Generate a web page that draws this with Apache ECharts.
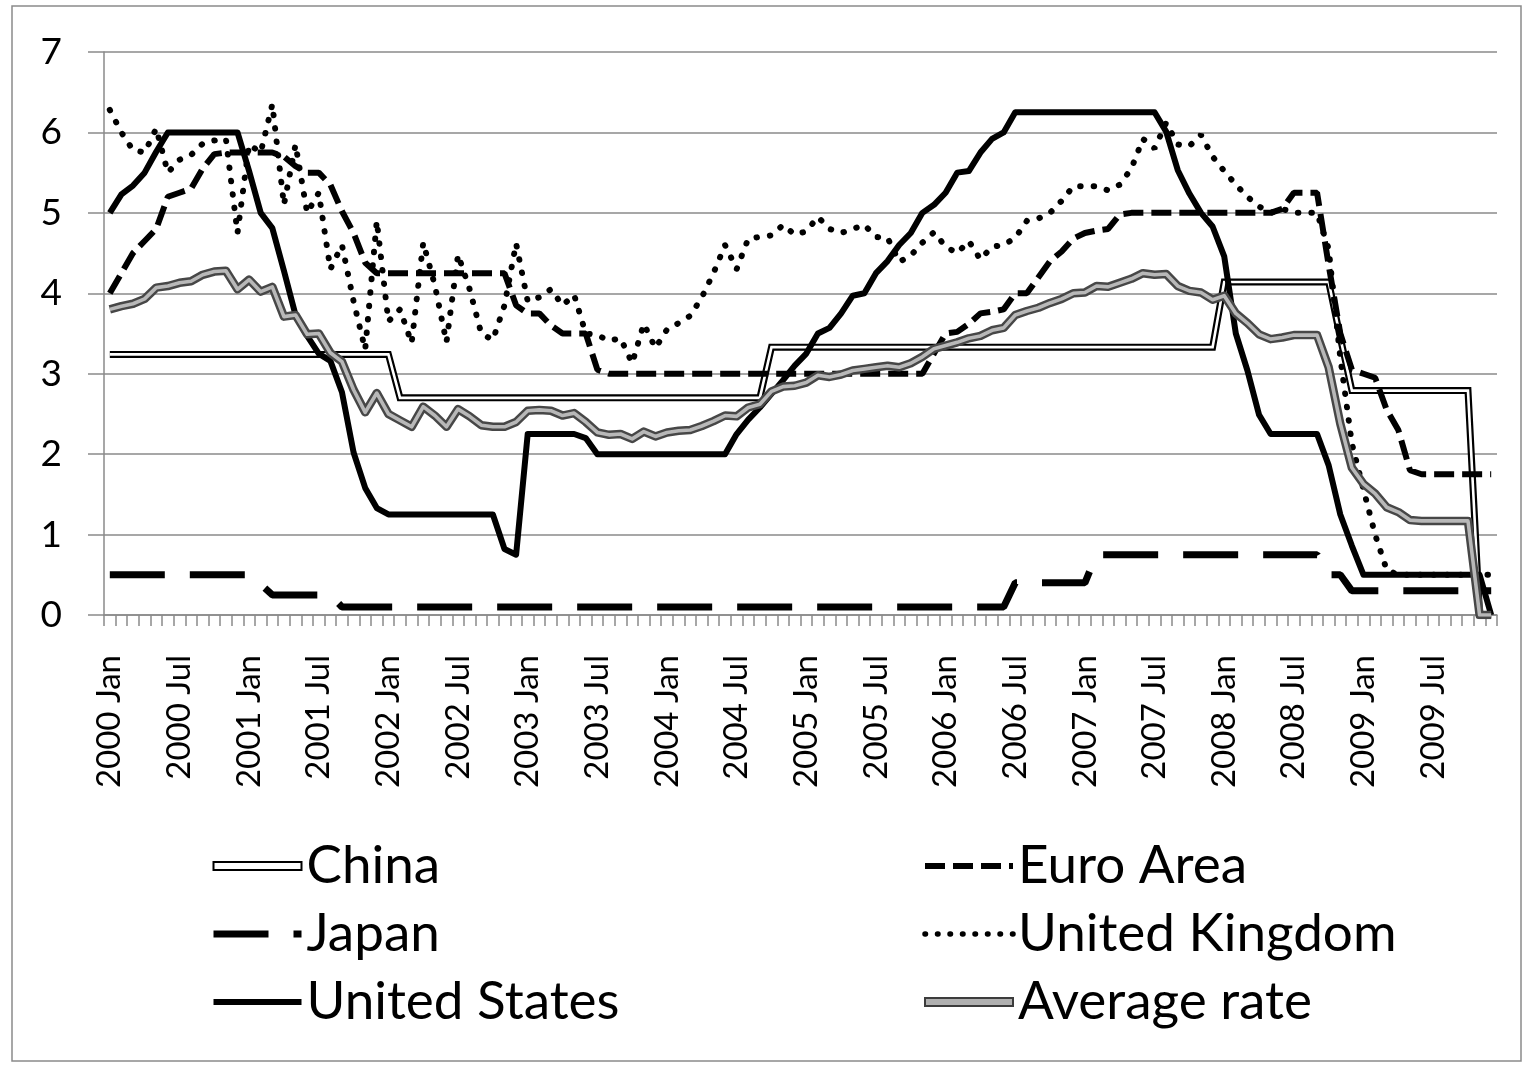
<!DOCTYPE html>
<html>
<head>
<meta charset="UTF-8">
<title>Policy rates 2000-2009</title>
<style>
  html, body { margin: 0; padding: 0; background: #fff; }
  #chart { width: 1528px; height: 1067px; }
</style>
</head>
<body>
<div id="chart"></div>
<script src="https://cdn.jsdelivr.net/npm/echarts@6/dist/echarts.min.js"></script>
<script>
// tick labels
var years = [2000, 2001, 2002, 2003, 2004, 2005, 2006, 2007, 2008, 2009];
var months = ['Jan', 'Feb', 'Mar', 'Apr', 'May', 'Jun', 'Jul', 'Aug', 'Sep', 'Oct', 'Nov', 'Dec'];

// monthly rates, one row per year
var china = [
  3.24, 3.24, 3.24, 3.24, 3.24, 3.24, 3.24, 3.24, 3.24, 3.24, 3.24, 3.24,
  3.24, 3.24, 3.24, 3.24, 3.24, 3.24, 3.24, 3.24, 3.24, 3.24, 3.24, 3.24,
  3.24, 2.7, 2.7, 2.7, 2.7, 2.7, 2.7, 2.7, 2.7, 2.7, 2.7, 2.7,
  2.7, 2.7, 2.7, 2.7, 2.7, 2.7, 2.7, 2.7, 2.7, 2.7, 2.7, 2.7,
  2.7, 2.7, 2.7, 2.7, 2.7, 2.7, 2.7, 2.7, 2.7, 3.33, 3.33, 3.33,
  3.33, 3.33, 3.33, 3.33, 3.33, 3.33, 3.33, 3.33, 3.33, 3.33, 3.33, 3.33,
  3.33, 3.33, 3.33, 3.33, 3.33, 3.33, 3.33, 3.33, 3.33, 3.33, 3.33, 3.33,
  3.33, 3.33, 3.33, 3.33, 3.33, 3.33, 3.33, 3.33, 3.33, 3.33, 3.33, 3.33,
  4.14, 4.14, 4.14, 4.14, 4.14, 4.14, 4.14, 4.14, 4.14, 4.14, 3.45, 2.79,
  2.79, 2.79, 2.79, 2.79, 2.79, 2.79, 2.79, 2.79, 2.79, 2.79, 0, 0
];
var euroArea = [
  4.0, 4.25, 4.5, 4.65, 4.8, 5.2, 5.25, 5.3, 5.55, 5.73, 5.75, 5.75,
  5.75, 5.75, 5.75, 5.7, 5.58, 5.5, 5.5, 5.35, 5.02, 4.75, 4.38, 4.25,
  4.25, 4.25, 4.25, 4.25, 4.25, 4.25, 4.25, 4.25, 4.25, 4.25, 4.25, 3.85,
  3.75, 3.75, 3.6, 3.5, 3.5, 3.5, 3.05, 3.0, 3.0, 3.0, 3.0, 3.0,
  3.0, 3.0, 3.0, 3.0, 3.0, 3.0, 3.0, 3.0, 3.0, 3.0, 3.0, 3.0,
  3.0, 3.0, 3.0, 3.0, 3.0, 3.0, 3.0, 3.0, 3.0, 3.0, 3.0, 3.25,
  3.5, 3.52, 3.62, 3.75, 3.77, 3.8, 4.0, 4.0, 4.2, 4.4, 4.52, 4.68,
  4.75, 4.78, 4.8, 4.98, 5.0, 5.0, 5.0, 5.0, 5.0, 5.0, 5.0, 5.0,
  5.0, 5.0, 5.0, 5.0, 5.0, 5.05, 5.25, 5.25, 5.25, 4.35, 3.5, 3.05,
  3.0, 2.95, 2.55, 2.3, 1.8, 1.75, 1.75, 1.75, 1.75, 1.75, 1.75, 1.75
];
var japan = [
  0.5, 0.5, 0.5, 0.5, 0.5, 0.5, 0.5, 0.5, 0.5, 0.5, 0.5, 0.5,
  0.5, 0.38, 0.25, 0.25, 0.25, 0.25, 0.25, 0.25, 0.1, 0.1, 0.1, 0.1,
  0.1, 0.1, 0.1, 0.1, 0.1, 0.1, 0.1, 0.1, 0.1, 0.1, 0.1, 0.1,
  0.1, 0.1, 0.1, 0.1, 0.1, 0.1, 0.1, 0.1, 0.1, 0.1, 0.1, 0.1,
  0.1, 0.1, 0.1, 0.1, 0.1, 0.1, 0.1, 0.1, 0.1, 0.1, 0.1, 0.1,
  0.1, 0.1, 0.1, 0.1, 0.1, 0.1, 0.1, 0.1, 0.1, 0.1, 0.1, 0.1,
  0.1, 0.1, 0.1, 0.1, 0.1, 0.1, 0.4, 0.4, 0.4, 0.4, 0.4, 0.4,
  0.4, 0.75, 0.75, 0.75, 0.75, 0.75, 0.75, 0.75, 0.75, 0.75, 0.75, 0.75,
  0.75, 0.75, 0.75, 0.75, 0.75, 0.75, 0.75, 0.75, 0.75, 0.5, 0.5, 0.3,
  0.3, 0.3, 0.3, 0.3, 0.3, 0.3, 0.3, 0.3, 0.3, 0.3, 0.3, 0.3
];
var unitedKingdom = [
  6.28, 6.0, 5.78, 5.75, 6.05, 5.5, 5.66, 5.72, 5.86, 5.9, 5.92, 4.75,
  5.85, 5.75, 6.35, 5.1, 5.85, 5.0, 5.25, 4.3, 4.6, 3.9, 3.3, 4.9,
  3.65, 3.8, 3.38, 4.63, 4.1, 3.39, 4.48, 4.05, 3.5, 3.42, 3.85, 4.62,
  3.9, 3.95, 4.05, 3.85, 3.98, 3.5, 3.48, 3.41, 3.44, 3.13, 3.62, 3.32,
  3.55, 3.63, 3.72, 3.95, 4.25, 4.6, 4.3, 4.68, 4.7, 4.72, 4.85, 4.73,
  4.77, 4.95, 4.8, 4.75, 4.8, 4.85, 4.7, 4.69, 4.39, 4.47, 4.63, 4.76,
  4.58, 4.5, 4.65, 4.42, 4.58, 4.6, 4.69, 4.9, 4.93, 5.0, 5.15, 5.33,
  5.33, 5.33, 5.28, 5.35, 5.55, 5.92, 5.8, 6.12, 5.85, 5.83, 5.97, 5.7,
  5.52, 5.35, 5.2, 5.08, 5.0, 5.05, 5.0, 5.0, 5.0, 4.55, 3.2, 2.13,
  1.56, 1.0, 0.56, 0.5, 0.5, 0.5, 0.5, 0.5, 0.5, 0.5, 0.5, 0.5
];
var unitedStates = [
  5.0, 5.23, 5.34, 5.5, 5.76, 6.0, 6.0, 6.0, 6.0, 6.0, 6.0, 6.0,
  5.52, 5.0, 4.81, 4.28, 3.73, 3.47, 3.25, 3.16, 2.77, 2.02, 1.58, 1.33,
  1.25, 1.25, 1.25, 1.25, 1.25, 1.25, 1.25, 1.25, 1.25, 1.25, 0.82, 0.75,
  2.25, 2.25, 2.25, 2.25, 2.25, 2.2, 2.0, 2.0, 2.0, 2.0, 2.0, 2.0,
  2.0, 2.0, 2.0, 2.0, 2.0, 2.0, 2.25, 2.43, 2.58, 2.75, 2.92, 3.1,
  3.25, 3.5, 3.57, 3.75, 3.97, 4.0, 4.25, 4.4, 4.6, 4.75, 5.0, 5.1,
  5.25, 5.5, 5.52, 5.75, 5.92, 6.0, 6.25, 6.25, 6.25, 6.25, 6.25, 6.25,
  6.25, 6.25, 6.25, 6.25, 6.25, 6.25, 6.25, 6.01, 5.53, 5.24, 5.0, 4.83,
  4.46, 3.5, 3.04, 2.49, 2.25, 2.25, 2.25, 2.25, 2.25, 1.86, 1.25, 0.86,
  0.5, 0.5, 0.5, 0.5, 0.5, 0.5, 0.5, 0.5, 0.5, 0.5, 0.5, 0
];
var averageRate = [
  3.80, 3.84, 3.87, 3.93, 4.07, 4.09, 4.13, 4.15, 4.23, 4.27, 4.28, 4.05,
  4.17, 4.02, 4.08, 3.71, 3.73, 3.49, 3.50, 3.26, 3.15, 2.80, 2.52, 2.76,
  2.50, 2.42, 2.34, 2.59, 2.48, 2.34, 2.56, 2.47, 2.36, 2.34, 2.34, 2.40,
  2.54, 2.55, 2.54, 2.48, 2.51, 2.40, 2.27, 2.24, 2.25, 2.19, 2.28, 2.22,
  2.27, 2.29, 2.30, 2.35, 2.41, 2.48, 2.47, 2.58, 2.62, 2.78, 2.84, 2.85,
  2.89, 2.98, 2.96, 2.99, 3.04, 3.06, 3.08, 3.10, 3.08, 3.13, 3.21, 3.31,
  3.35, 3.39, 3.44, 3.47, 3.54, 3.57, 3.73, 3.78, 3.82, 3.88, 3.93, 4.00,
  4.01, 4.09, 4.08, 4.13, 4.18, 4.25, 4.23, 4.24, 4.09, 4.03, 4.01, 3.92,
  3.97, 3.75, 3.63, 3.49, 3.43, 3.45, 3.48, 3.48, 3.48, 3.08, 2.38, 1.83,
  1.63, 1.51, 1.34, 1.28, 1.18, 1.17, 1.17, 1.17, 1.17, 1.17, 0, 0
];

var categories = [];
years.forEach(function (y) {
  months.forEach(function (m) { categories.push(y + ' ' + m); });
});

var gridGray = '#8a8a8a';
var font = 'Lato';
var barIcon = 'path://M0,0H88V8H0Z';
var legendText = { fontFamily: font, fontSize: 53, lineHeight: 56, color: '#000' };

var chart = echarts.init(document.getElementById('chart'), null, { renderer: 'canvas' });

function line(name, data, lineStyle) {
  return {
    name: name,
    type: 'line',
    data: data,
    symbol: 'none',
    showSymbol: false,
    silent: true,
    itemStyle: { color: lineStyle.color },
    lineStyle: lineStyle
  };
}

chart.setOption({
  animation: false,
  textStyle: { fontFamily: font },
  graphic: [{
    type: 'rect',
    silent: true,
    z: -10,
    shape: { x: 12, y: 6, width: 1509, height: 1055 },
    style: { fill: 'none', stroke: gridGray, lineWidth: 1.5 }
  }],
  grid: { left: 104, right: 31, top: 52, bottom: 452 },
  xAxis: {
    type: 'category',
    data: categories,
    boundaryGap: true,
    axisLine: { lineStyle: { color: gridGray, width: 1.5 } },
    axisTick: { show: true, interval: 0, length: 11, lineStyle: { color: gridGray, width: 1.5 } },
    axisLabel: { interval: 5, rotate: 90, margin: 40, fontSize: 33, color: '#000', fontFamily: font },
    splitLine: { show: false }
  },
  yAxis: {
    type: 'value',
    min: 0,
    max: 7,
    interval: 1,
    axisLine: { show: true, lineStyle: { color: gridGray, width: 1.5 } },
    axisTick: { show: true, length: 16, lineStyle: { color: gridGray, width: 1.5 } },
    axisLabel: { margin: 42, fontSize: 37, color: '#000', fontFamily: font },
    splitLine: { lineStyle: { color: gridGray, width: 1.5 } }
  },
  legend: [{
    orient: 'vertical',
    left: 210,
    top: 838,
    padding: 0,
    itemWidth: 88,
    itemHeight: 8,
    itemGap: 12,
    selectedMode: false,
    textStyle: legendText,
    itemStyle: { opacity: 0 },
    data: [
      { name: 'China', icon: barIcon, itemStyle: { color: '#fff', borderColor: '#000', borderWidth: 2, opacity: 1 } },
      { name: 'Japan', lineStyle: { width: 7, type: [55, 25], color: '#000' } },
      { name: 'United States', lineStyle: { width: 6, color: '#000' } }
    ]
  }, {
    orient: 'vertical',
    left: 922,
    top: 838,
    padding: 0,
    itemWidth: 88,
    itemHeight: 8,
    itemGap: 12,
    selectedMode: false,
    textStyle: legendText,
    itemStyle: { opacity: 0 },
    data: [
      { name: 'Euro Area', lineStyle: { width: 6, type: [20, 8], color: '#000' } },
      { name: 'United Kingdom', lineStyle: { width: 5.5, type: [0.5, 12], cap: 'round', color: '#000' } },
      { name: 'Average rate', icon: barIcon, itemStyle: { color: '#b0b0b0', borderColor: '#3c3c3c', borderWidth: 2, opacity: 1 } }
    ]
  }],
  series: [
    line('China', china, { color: '#000', width: 7, join: 'miter' }),
    line('China inner', china, { color: '#fff', width: 2.6, join: 'miter' }),
    line('Euro Area', euroArea, { color: '#000', width: 6, type: [20, 8] }),
    line('Japan', japan, { color: '#000', width: 7, type: [55, 25] }),
    line('United Kingdom', unitedKingdom, { color: '#000', width: 6, type: [0.5, 13], cap: 'round' }),
    line('United States', unitedStates, { color: '#000', width: 6, join: 'round' }),
    line('Average rate', averageRate, { color: '#474747', width: 8.5, join: 'round' }),
    line('Average inner', averageRate, { color: '#b8b8b8', width: 3.6, join: 'round' })
  ]
});
</script>
</body>
</html>
